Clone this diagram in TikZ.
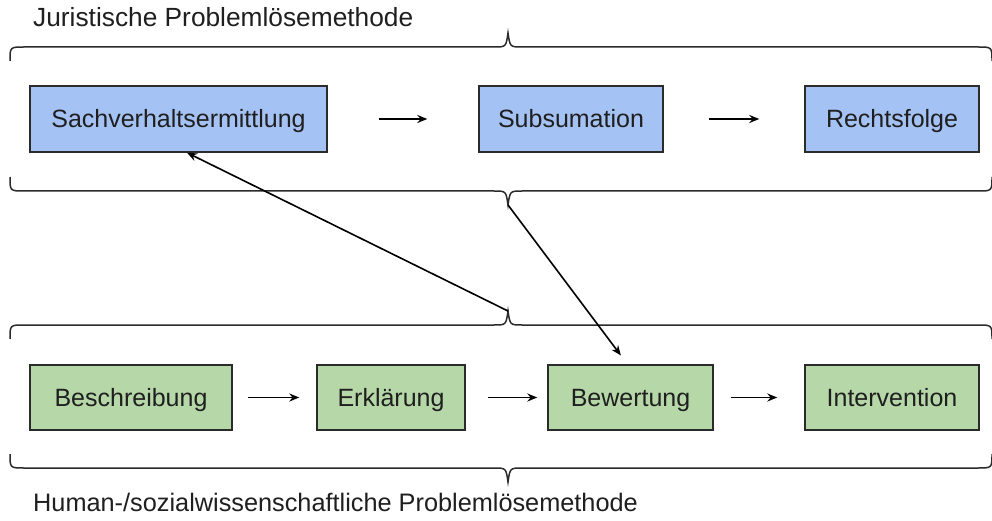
\documentclass[tikz,border=0pt]{standalone}
\usepackage{fontspec}
\setmainfont{Liberation Sans}
\usetikzlibrary{arrows.meta}
\definecolor{bluebox}{HTML}{A4C2F4}
\definecolor{greenbox}{HTML}{B6D7A8}
\definecolor{edge}{HTML}{2B2B2B}
\definecolor{txt}{HTML}{1F1F1F}
\tikzset{
  box/.style={draw=edge, line width=1.4pt, minimum height=66pt, inner sep=0pt, text=txt,
    text height=18pt, text depth=0pt,
    font=\fontsize{25}{30}\selectfont},
  bluebx/.style={box, fill=bluebox},
  greenbx/.style={box, fill=greenbox},
  conn/.style={draw=black, line width=1.6pt, -{Stealth[length=10pt,width=8pt]}},
  bracepath/.style={draw=edge, line width=1.5pt},
  ttl/.style={anchor=west, inner sep=0pt, text=txt, text height=18pt, text depth=0pt}
}
\newcommand{\mybrace}[3]{% center x, line y, sign (+1: ends curl down, tip up)
  \draw[bracepath, shift={(#1,#2)}, yscale=#3]
    (-498,14) .. controls (-498,0) .. (-484,0) -- (-14,0)
    .. controls (-2,0) .. (0,-14) .. controls (2,0) .. (14,0)
    -- (470,0) .. controls (484,0) .. (484,14);
}
\begin{document}
\begin{tikzpicture}[x=1pt,y=-1pt]
\useasboundingbox (0,0) rectangle (992,521);
\fill[white] (0,0) rectangle (992,521);

\node[ttl, font=\fontsize{26.3}{30}\selectfont] (t1) at (33,18) {Juristische Problemlösemethode};
\node[ttl, font=\fontsize{25.3}{30}\selectfont] (t2x) at (33,502) {Human-/sozialwissenschaftliche Problemlösemethode};

\mybrace{508}{47}{1}
\mybrace{508}{191}{-1}
\mybrace{508}{325}{1}
\mybrace{508}{468}{-1}
\coordinate (tipB) at (508,205);
\coordinate (tipC) at (508,311);

\node[bluebx, minimum width=297pt] (S) at (178.5,119) {Sachverhaltsermittlung};
\node[bluebx, minimum width=184pt] (Sub) at (571,119) {Subsumation};
\node[bluebx, minimum width=174pt] (R) at (892,119) {Rechtsfolge};

\node[greenbx, minimum width=202pt, minimum height=65pt] (B) at (131,397.5) {Beschreibung};
\node[greenbx, minimum width=148pt, minimum height=65pt] (E) at (391,397.5) {Erklärung};
\node[greenbx, minimum width=165pt, minimum height=65pt] (Bw) at (630.5,397.5) {Bewertung};
\node[greenbx, minimum width=174pt, minimum height=65pt] (I) at (892,397.5) {Intervention};

\draw[conn, shorten <=51pt, shorten >=51pt] (S) -- (Sub);
\draw[conn, shorten <=45pt, shorten >=45pt] (Sub) -- (R);
\draw[conn, shorten <=15pt, shorten >=17pt] (B) -- (E);
\draw[conn, shorten <=22pt, shorten >=10pt] (E) -- (Bw);
\draw[conn, shorten <=17pt, shorten >=27pt] (Bw) -- (I);

\draw[conn] (tipC) -- ([xshift=8.5pt]S.south);
\draw[conn, shorten >=11pt] (tipB) -- ([xshift=-3pt]Bw.north);
\end{tikzpicture}
\end{document}
